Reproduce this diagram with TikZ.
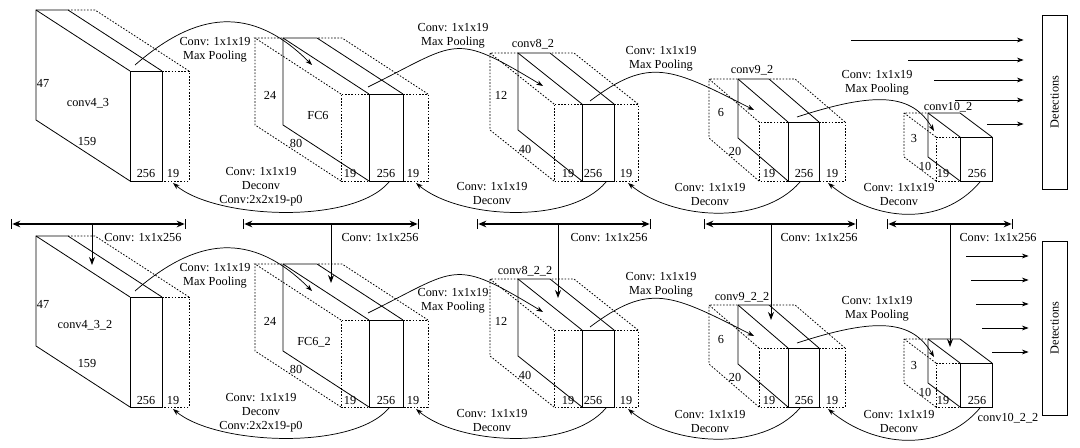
\documentclass[tikz,border=0pt]{standalone}
\usepackage{fontspec}
\setmainfont{Liberation Serif}
\usetikzlibrary{arrows.meta}
\tikzset{
  blockline/.style={line width=0.6pt},
  hidline/.style={line width=0.6pt, dash pattern=on 1.2pt off 1.2pt},
  flowarrow/.style={-{Stealth[length=5pt,width=3.6pt]}, line width=0.55pt},
  spanarrow/.style={|<->|, >={Stealth[length=6pt,width=5pt]}, line width=1pt},
  downarrow/.style={-{Stealth[length=6pt,width=4.5pt]}, line width=0.75pt},
  dim/.style={inner sep=0pt},
  oplabel/.style={align=center, inner sep=0pt},
  detbox/.style={draw, line width=0.6pt, minimum width=18.75pt, minimum height=130.5pt, inner sep=0pt}
}
% solid feature block: front x1, x2, top, bottom, depth dx, dy
\newcommand{\solidblock}[6]{%
  \draw[blockline] (#1,#3) rectangle (#2,#4);
  \draw[blockline] (#1,#4) -- ++(#5,#6) -- ++(0,{#3-#4}) -- ++({#2-#1},0) -- (#2,#3);
  \draw[blockline] (#1,#3) -- ++(#5,#6);
}
% dotted slab on the right: x2, top, bottom, dx, dy, width
\newcommand{\dotright}[6]{%
  \draw[hidline] (#1,#2) -- ++(#6,0) -- ++(0,{#3-#2}) -- (#1,#3);
  \draw[hidline] ({#1+#6},#2) -- ++(#4,#5) -- ++(-#6,0);
}
% dotted slab on the left: x1, top, bottom, dx, dy, width
\newcommand{\dotleft}[6]{%
  \draw[hidline] (#1,#2) -- ++(-#6,0) -- ++(0,{#3-#2}) -- (#1,#3);
  \draw[hidline] ({#1-#6},#2) -- ++(#4,#5) -- ++(#6,0);
  \draw[hidline] ({#1-#6},#3) -- ++(#4,#5) -- ++(0,{#2-#3});
}

\begin{document}
\begin{tikzpicture}[x=0.75pt, y=-0.75pt, every node/.style={font=\fontsize{9.2}{10.5}\selectfont}]
  \useasboundingbox (0,0) rectangle (1080,448);

  % the two rows of feature maps
  \foreach \rowshift/\rowid/\ltwo/\lup in {0/t/35.5/0, 226/b/74.5/-5} {
    \begin{scope}[shift={(0,\rowshift)}]
      \solidblock{130}{162}{71}{181}{-94}{-61}
      \dotright{162}{71}{181}{-94}{-61}{27}
      \solidblock{369}{403}{94}{181}{-86}{-56}
      \dotleft{369}{94}{181}{-86}{-56}{28}
      \dotright{403}{94}{181}{-86}{-56}{25}
      \solidblock{582}{614}{104}{181}{-64}{-51}
      \dotleft{582}{104}{181}{-64}{-51}{28}
      \dotright{614}{104}{181}{-64}{-51}{24}
      \solidblock{788}{819}{122}{181}{-50}{-43}
      \dotleft{788}{122}{181}{-50}{-43}{29}
      \dotright{819}{122}{181}{-50}{-43}{26}
      \solidblock{960}{992}{137}{181}{-32}{-24}
      \dotleft{960}{137}{181}{-32}{-24}{24}

      \node[dim] at (43,83+\lup) {47};
      \node[dim] at (87,142+\lup) {159};
      \node[dim] at (146,174) {256};
      \node[dim] at (173,174) {19};
      \node[dim] at (270,95) {24};
      \node[dim] at (296,143) {80};
      \node[dim] at (350,174) {19};
      \node[dim] at (386,174) {256};
      \node[dim] at (413,174) {19};
      \node[dim] at (501,95) {12};
      \node[dim] at (525,149) {40};
      \node[dim] at (568,174) {19};
      \node[dim] at (593,174) {256};
      \node[dim] at (626,174) {19};
      \node[dim] at (721,113) {6};
      \node[dim] at (735,151) {20};
      \node[dim] at (769,174) {19};
      \node[dim] at (804,174) {256};
      \node[dim] at (832,174) {19};
      \node[dim] at (914,139) {3};
      \node[dim] at (925,166) {10};
      \node[dim] at (943,174) {19};
      \node[dim] at (977,174) {256};

      % end points of the pooling / deconv arcs
      \coordinate (pa1-\rowid) at (135,65);   \coordinate (pb1-\rowid) at (312,65);
      \coordinate (pa2-\rowid) at (368,87);   \coordinate (pb2-\rowid) at (543,86);
      \coordinate (pa3-\rowid) at (590,101);  \coordinate (pb3-\rowid) at (754,110);
      \coordinate (pa4-\rowid) at (797,117);  \coordinate (pb4-\rowid) at (934,131);
      \coordinate (da1-\rowid) at (389,182);  \coordinate (db1-\rowid) at (173,183);
      \coordinate (da2-\rowid) at (606,182);  \coordinate (db2-\rowid) at (416,183);
      \coordinate (da3-\rowid) at (800,182);  \coordinate (db3-\rowid) at (628,183);
      \coordinate (da4-\rowid) at (980,182);  \coordinate (db4-\rowid) at (828,183);

      \draw[flowarrow] (pa1-\rowid) .. controls +(61,-53) and +(-61,-61) .. (pb1-\rowid);
      \draw[flowarrow] (pa2-\rowid) .. controls +(91,-45) and +(-91,-55) .. (pb2-\rowid);
      \draw[flowarrow] (pa3-\rowid) .. controls +(60,-45) and +(-83,-42) .. (pb3-\rowid);
      \draw[flowarrow] (pa4-\rowid) .. controls +(80,-26) and +(-22,-37) .. (pb4-\rowid);
      \draw[flowarrow] (da1-\rowid) .. controls +(-36,43) and +(43,36) .. (db1-\rowid);
      \draw[flowarrow] (da2-\rowid) .. controls +(-36,43) and +(43,36) .. (db2-\rowid);
      \draw[flowarrow] (da3-\rowid) .. controls +(-38,44) and +(45,37) .. (db3-\rowid);
      \draw[flowarrow] (da4-\rowid) .. controls +(-39,46) and +(46,38) .. (db4-\rowid);

      \node[oplabel] at (215,50) {Conv: 1x1x19\\Max Pooling};
      \node[oplabel] at (453,\ltwo) {Conv: 1x1x19\\Max Pooling};
      \node[oplabel] at (661,59) {Conv: 1x1x19\\Max Pooling};
      \node[oplabel] at (877,83) {Conv: 1x1x19\\Max Pooling};
      \node[oplabel] at (261,187) {Conv: 1x1x19\\Deconv\\Conv:2x2x19-p0};
      \node[oplabel] at (492,194) {Conv: 1x1x19\\Deconv};
      \node[oplabel] at (710,195) {Conv: 1x1x19\\Deconv};
      \node[oplabel] at (899,195) {Conv: 1x1x19\\Deconv};

      \node[detbox] (det-\rowid) at (1054.5,102) {\rotatebox{90}{Detections}};
    \end{scope}
  }

  % block names
  \node[dim] at (88,103) {conv4\_3};
  \node[dim] at (318,116) {FC6};
  \node[dim] at (533,44) {conv8\_2};
  \node[dim] at (752,70) {conv9\_2};
  \node[dim] at (948,107) {conv10\_2};
  \node[dim] at (85,325) {conv4\_3\_2};
  \node[dim] at (314,342) {FC6\_2};
  \node[dim] at (525,271) {conv8\_2\_2};
  \node[dim] at (742,297) {conv9\_2\_2};
  \node[dim] at (1008,418) {conv10\_2\_2};

  % outputs to the detection boxes
  \foreach \xs/\yy in {851/40, 908/60, 934/80, 955/100, 987/124}
    \draw[flowarrow, shorten >=13.5pt] (\xs,\yy) -- (\xs,\yy -| det-t.west);
  \foreach \xs/\yy in {966/256, 971/280, 976/304, 982/328, 992/352}
    \draw[flowarrow, shorten >=9.75pt] (\xs,\yy) -- (\xs,\yy -| det-b.west);

  % 1x1x256 links from the upper row to the lower row
  \foreach \i/\xa/\xb/\xv/\ye/\xl in {1/11/186/92/265/143, 2/243/419/331/283/380,
      3/477/651/558/298/609, 4/704/857/771/320/819, 5/887/1013/950/347/998} {
    \coordinate (spa\i) at (\xa,224);
    \coordinate (spb\i) at (\xb,224);
    \coordinate (lk\i) at (\xv,224);
    \coordinate (in\i) at (\xv,\ye);
    \draw[spanarrow] (spa\i) -- (spb\i);
    \draw[downarrow] (lk\i) -- (in\i);
    \node[dim] at (\xl,238) {Conv: 1x1x256};
  }
\end{tikzpicture}
\end{document}
